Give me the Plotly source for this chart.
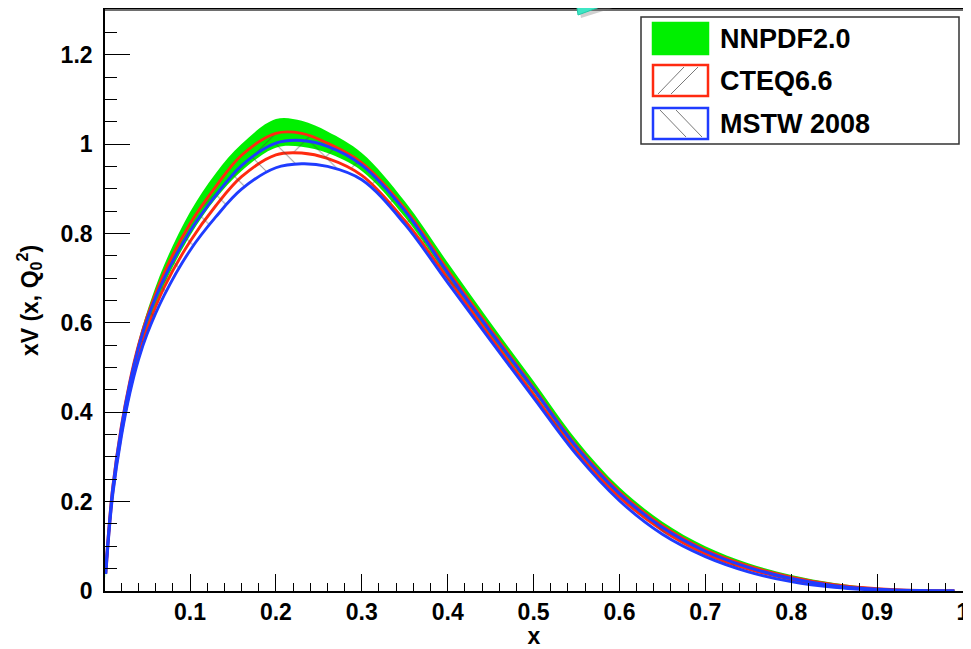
import plotly.graph_objects as go

# x grid and band edges
x_vals = [0.002, 0.005, 0.01, 0.02, 0.03, 0.04, 0.05, 0.07, 0.1, 0.13, 0.16, 0.2,
          0.23, 0.26, 0.3, 0.35, 0.4, 0.45, 0.5, 0.55, 0.6, 0.65, 0.7, 0.75,
          0.8, 0.85, 0.9, 0.95, 0.99]

nnpdf_hi = [0.055, 0.135, 0.240, 0.375, 0.478, 0.560, 0.625, 0.730, 0.848, 0.935, 1.000, 1.056,
            1.052, 1.028, 0.980, 0.872, 0.735, 0.600, 0.470, 0.338, 0.232, 0.155, 0.100, 0.062,
            0.036, 0.018, 0.007, 0.002, 0.0]
nnpdf_lo = [0.028, 0.110, 0.215, 0.350, 0.450, 0.528, 0.588, 0.685, 0.795, 0.878, 0.940, 0.992,
            0.994, 0.980, 0.940, 0.837, 0.703, 0.570, 0.445, 0.315, 0.212, 0.138, 0.085, 0.050,
            0.026, 0.011, 0.003, 0.0005, 0.0]

cteq_hi = [0.050, 0.128, 0.232, 0.368, 0.470, 0.550, 0.613, 0.712, 0.822, 0.905, 0.975, 1.024,
           1.024, 1.002, 0.958, 0.856, 0.718, 0.585, 0.455, 0.325, 0.222, 0.146, 0.092, 0.056,
           0.031, 0.014, 0.005, 0.001, 0.0]
cteq_lo = [0.040, 0.118, 0.220, 0.352, 0.450, 0.527, 0.587, 0.680, 0.782, 0.862, 0.927, 0.976,
           0.980, 0.968, 0.930, 0.829, 0.700, 0.568, 0.440, 0.312, 0.210, 0.136, 0.083, 0.049,
           0.026, 0.010, 0.003, 0.0005, 0.0]

mstw_hi = [0.050, 0.127, 0.230, 0.365, 0.466, 0.545, 0.607, 0.700, 0.805, 0.885, 0.952, 1.002,
           1.008, 0.995, 0.953, 0.851, 0.712, 0.580, 0.452, 0.322, 0.218, 0.142, 0.089, 0.053,
           0.028, 0.012, 0.004, 0.001, 0.0]
mstw_lo = [0.038, 0.115, 0.215, 0.345, 0.443, 0.518, 0.575, 0.662, 0.762, 0.837, 0.899, 0.947,
           0.956, 0.950, 0.920, 0.821, 0.690, 0.560, 0.432, 0.305, 0.202, 0.127, 0.077, 0.043,
           0.021, 0.008, 0.002, 0.0003, 0.0]

legend_labels = ["NNPDF2.0", "CTEQ6.6", "MSTW 2008"]

GREEN = "#00f000"
RED = "#ff2a10"
BLUE = "#1f3cff"
FONT = "Liberation Sans, Arial, Helvetica, sans-serif"

# the page body adds an 8px margin, so the figure is drawn 8px smaller and
# reference pixel positions are shifted by that offset
OFF = 8
W, H = 971 - OFF, 649 - OFF
L, R, T, B = 105 - OFF, 963 - OFF, 10 - OFF, 591 - OFF


def px(xp):
    return (xp - OFF - L) / (R - L)


def py(yp):
    return (B - (yp - OFF)) / (B - T)


fig = go.Figure()

# NNPDF band
fig.add_trace(go.Scatter(x=x_vals, y=nnpdf_lo, mode="lines", line=dict(width=0, shape="spline", color=GREEN),
                         showlegend=False, hoverinfo="skip"))
fig.add_trace(go.Scatter(x=x_vals, y=nnpdf_hi, mode="lines", line=dict(width=0, shape="spline", color=GREEN),
                         fill="tonexty", fillcolor=GREEN, showlegend=False))

# CTEQ band
fig.add_trace(go.Scatter(x=x_vals, y=cteq_lo, mode="lines", line=dict(width=2.9, shape="spline", color=RED),
                         showlegend=False))
fig.add_trace(go.Scatter(x=x_vals, y=cteq_hi, mode="lines", line=dict(width=2.9, shape="spline", color=RED),
                         fill="tonexty", fillcolor="rgba(0,0,0,0)",
                         fillpattern=dict(shape="/", fgcolor="#444444", bgcolor="rgba(0,0,0,0)",
                                          size=26, solidity=0.04),
                         showlegend=False))

# MSTW band
fig.add_trace(go.Scatter(x=x_vals, y=mstw_lo, mode="lines", line=dict(width=2.9, shape="spline", color=BLUE),
                         showlegend=False))
fig.add_trace(go.Scatter(x=x_vals, y=mstw_hi, mode="lines", line=dict(width=2.9, shape="spline", color=BLUE),
                         fill="tonexty", fillcolor="rgba(0,0,0,0)",
                         fillpattern=dict(shape="\\", fgcolor="#444444", bgcolor="rgba(0,0,0,0)",
                                          size=26, solidity=0.04),
                         showlegend=False))

# hand-drawn ROOT style legend
shapes = []
annotations = []
shapes.append(dict(type="rect", xref="paper", yref="paper", x0=px(641), x1=px(959), y0=py(144), y1=py(17),
                   line=dict(color="#333333", width=1.5), fillcolor="white", layer="above"))
rows = [23, 65, 108]
colors = [GREEN, RED, BLUE]
for i, (top, col, lab) in enumerate(zip(rows, colors, legend_labels)):
    shapes.append(dict(type="rect", xref="paper", yref="paper", x0=px(653), x1=px(708),
                       y0=py(top + 31), y1=py(top), layer="above",
                       line=dict(color=col, width=2.5),
                       fillcolor=col if i == 0 else "white"))
    annotations.append(dict(text="<b>%s</b>" % lab, xref="paper", yref="paper", x=px(718), y=py(top + 16),
                            xanchor="left", yanchor="middle", showarrow=False,
                            font=dict(family=FONT, size=27, color="black")))
# hatch strokes inside legend swatches
for a, b in [((658, 94), (684, 67)), ((671, 94), (698, 67))]:
    shapes.append(dict(type="line", xref="paper", yref="paper", x0=px(a[0]), y0=py(a[1]), x1=px(b[0]),
                       y1=py(b[1]), line=dict(color="#555555", width=0.8), layer="above"))
for a, b in [((660, 110), (686, 137)), ((676, 110), (702, 137))]:
    shapes.append(dict(type="line", xref="paper", yref="paper", x0=px(a[0]), y0=py(a[1]), x1=px(b[0]),
                       y1=py(b[1]), line=dict(color="#555555", width=0.8), layer="above"))

# grey top edge of the frame
shapes.append(dict(type="line", xref="paper", yref="paper", x0=0, x1=1, y0=1, y1=1, layer="above",
                   line=dict(color="#6e6e6e", width=2)))

# slide arrow fragment at the top edge
shapes.append(dict(type="path", xref="paper", yref="paper", layer="above",
                   path="M %f %f L %f %f L %f %f Z" % (px(579), py(6), px(619), py(6), px(581), py(18)),
                   fillcolor="rgba(120,120,120,0.35)", line=dict(width=0)))
shapes.append(dict(type="path", xref="paper", yref="paper", layer="above",
                   path="M %f %f L %f %f L %f %f Z" % (px(576), py(0), px(619), py(0), px(578), py(15)),
                   fillcolor="#3de6c4", line=dict(color="#22c9a8", width=1)))

axis_font = dict(family=FONT, size=23, color="black", weight="bold")

fig.update_layout(
    width=W, height=H,
    margin=dict(l=L, r=W - R, t=T, b=H - B, autoexpand=False),
    paper_bgcolor="white", plot_bgcolor="white",
    shapes=shapes, annotations=annotations,
    showlegend=False,
    xaxis=dict(range=[0.001, 1.0], dtick=0.1, tick0=0, ticks="inside", ticklen=17, tickwidth=1.3,
               tickcolor="black", showgrid=False, zeroline=False, showline=True, linecolor="black",
               linewidth=1.6, mirror=True, tickfont=axis_font, ticklabelstandoff=0, automargin=False,
               minor=dict(ticks="inside", ticklen=8, dtick=0.02, tickcolor="black", tickwidth=1.1,
                          showgrid=False),
               title=dict(text="<b>x</b>", font=dict(family=FONT, size=23, color="black"), standoff=0)),
    yaxis=dict(range=[0, 1.3], dtick=0.2, tick0=0, ticks="inside", ticklen=25, tickwidth=1.3,
               tickcolor="black", showgrid=False, zeroline=False, showline=True, linecolor="black",
               linewidth=1.6, mirror=True, tickfont=axis_font, ticklabelstandoff=6, automargin=False,
               minor=dict(ticks="inside", ticklen=12, dtick=0.05, tickcolor="black", tickwidth=1.1,
                          showgrid=False),
               title=dict(text="<b>xV (x, Q<sub>0</sub><sup>2</sup>)</b>",
                          font=dict(family=FONT, size=23, color="black"), standoff=16)),
)

fig.write_html("out.html")
